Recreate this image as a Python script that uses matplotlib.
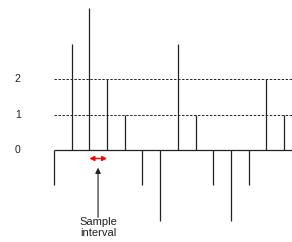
import matplotlib.pyplot as plt
import numpy as np

plt.rcParams['font.family'] = ['Liberation Sans', 'DejaVu Sans']

values = [-1, 3, 4, 2, 1, -1, -2, 3, 1, -1, -2, -1, 2, 1]
levels = [0, 1, 2]
level_labels = ['0', '1', '2']

fig = plt.figure(figsize=(2.92, 2.42), dpi=100)
ax = fig.add_axes([0, 0, 1, 1])
ax.set_xlim(-3.05, 13.45)
ax.set_ylim(-2.6, 4.24)
ax.axis('off')

n = np.arange(len(values))
ax.vlines(n, 0, values, color='#222222', lw=0.9)
ax.hlines(0, 0, 13.45, color='#222222', lw=0.9)

# dashed reference levels
for lv in levels[1:]:
    ax.hlines(lv, 0, 13.45, color='#222222', lw=0.7, linestyles=(0, (2.5, 1.6)))

for lv, lab in zip(levels, level_labels):
    ax.text(-2.05, lv, lab, ha='center', va='center', fontsize=7.5, color='#222222')

# sample interval marker
ax.annotate('', xy=(2, -0.24), xytext=(3, -0.24),
            arrowprops=dict(arrowstyle='<|-|>', color='red', lw=1.0,
                            mutation_scale=7, shrinkA=0, shrinkB=0))
ax.annotate('', xy=(2.49, -0.5), xytext=(2.49, -1.9),
            arrowprops=dict(arrowstyle='-|>', color='#222222', lw=0.8,
                            mutation_scale=8, shrinkA=0, shrinkB=0))
ax.text(2.49, -1.9, 'Sample\ninterval', ha='center', va='top',
        fontsize=8, color='#222222', linespacing=1.05)

fig.savefig('out.png', dpi=100)
